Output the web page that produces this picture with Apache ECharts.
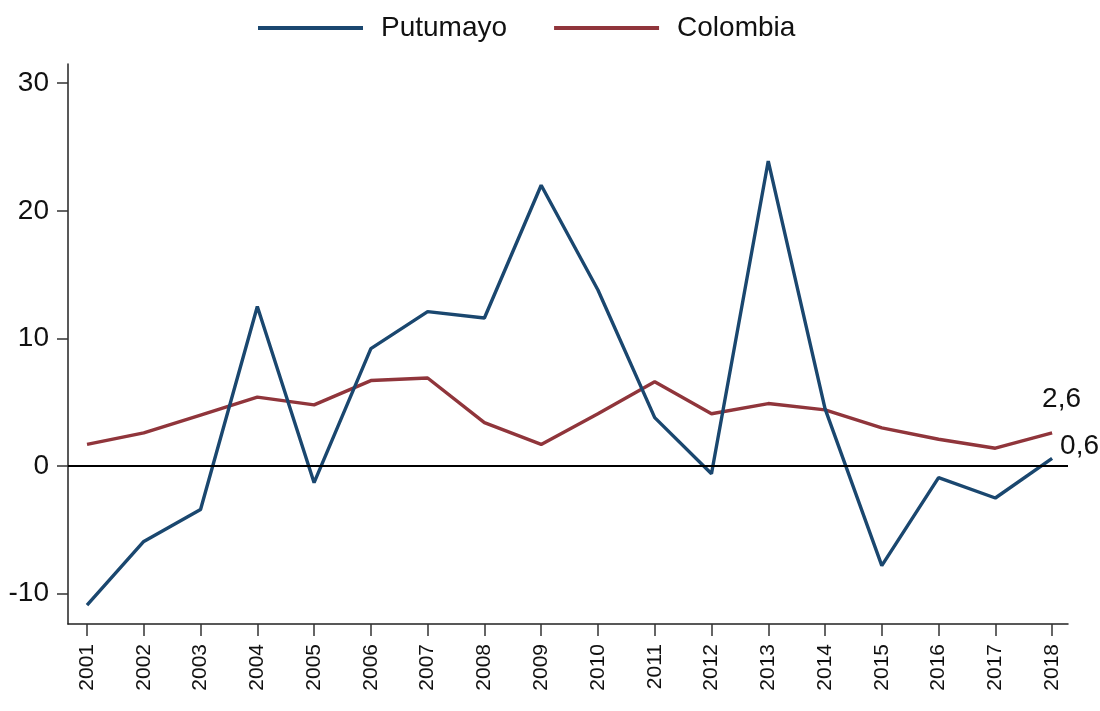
<!DOCTYPE html>
<html>
<head>
<meta charset="utf-8">
<script src="https://cdn.jsdelivr.net/npm/echarts@6/dist/echarts.min.js"></script>
<style>
html,body{margin:0;padding:0;background:#fff;}
#chart{width:1100px;height:711px;}
</style>
</head>
<body>
<div id="chart"></div>
<script>
const years = [2001,2002,2003,2004,2005,2006,2007,2008,2009,2010,2011,2012,2013,2014,2015,2016,2017,2018];
const putumayo = [-10.9,-5.9,-3.4,12.5,-1.3,9.2,12.1,11.6,22.0,13.8,3.8,-0.6,23.9,4.5,-7.8,-0.9,-2.5,0.6];
const colombia = [1.7,2.6,4.0,5.4,4.8,6.7,6.9,3.4,1.7,4.1,6.6,4.1,4.9,4.4,3.0,2.1,1.4,2.6];
const yTicks = [-10,0,10,20,30];
const seriesNames = ['Putumayo','Colombia'];

const fmt = v => v.toFixed(1).replace('.', ',');
const FONT = '"Liberation Sans", Arial, sans-serif';

const pairs = vals => years.map((y, i) => [y, vals[i]]);

const chart = echarts.init(document.getElementById('chart'));
chart.setOption({
  animation: false,
  backgroundColor: '#fff',
  legend: {
    top: 9,
    left: 253,
    itemWidth: 105,
    itemHeight: 4,
    itemGap: 47,
    icon: 'rect',
    textStyle: { fontSize: 28, fontFamily: FONT, color: '#111', padding: [0,0,0,13] },
    data: seriesNames
  },
  grid: { left: 68, right: 32, top: 64, bottom: 87, containLabel: false },
  xAxis: {
    type: 'value',
    min: 2000.665,
    max: 2018.28,
    splitLine: { show: false },
    axisLine: { show: true, onZero: false, lineStyle: { color: '#222', width: 1.5 } },
    axisTick: { show: true, customValues: years, length: 12, lineStyle: { color: '#333', width: 1.5 } },
    axisLabel: {
      customValues: years,
      rotate: 90,
      fontSize: 21,
      fontFamily: FONT,
      color: '#111',
      margin: 20,
      formatter: v => String(v)
    }
  },
  yAxis: {
    type: 'value',
    min: -12.37,
    max: 31.5,
    splitLine: { show: false },
    axisLine: { show: true, lineStyle: { color: '#222', width: 1.5 } },
    axisTick: { show: true, customValues: yTicks, length: 11, lineStyle: { color: '#333', width: 1.5 } },
    axisLabel: {
      customValues: yTicks,
      fontSize: 28,
      fontFamily: FONT,
      color: '#111',
      margin: 19,
      formatter: v => String(v)
    }
  },
  series: [
    {
      name: seriesNames[0],
      type: 'line',
      showSymbol: false,
      symbol: 'none',
      z: 3,
      lineStyle: { color: '#1a476f', width: 3.4 },
      itemStyle: { color: '#1a476f' },
      data: pairs(putumayo),
      endLabel: {
        show: true,
        formatter: p => fmt(p.value[1]),
        color: '#111',
        fontSize: 28,
        fontFamily: FONT,
        distance: 0,
        offset: [8, -12]
      },
      markLine: {
        silent: true,
        symbol: 'none',
        label: { show: false },
        lineStyle: { color: '#000', width: 2, type: 'solid' },
        data: [{ yAxis: 0 }]
      }
    },
    {
      name: seriesNames[1],
      type: 'line',
      showSymbol: false,
      symbol: 'none',
      z: 2,
      lineStyle: { color: '#90353b', width: 3.4 },
      itemStyle: { color: '#90353b' },
      data: pairs(colombia),
      endLabel: {
        show: true,
        formatter: p => fmt(p.value[1]),
        color: '#111',
        fontSize: 28,
        fontFamily: FONT,
        distance: 0,
        offset: [-10, -34]
      }
    }
  ]
});
</script>
</body>
</html>
